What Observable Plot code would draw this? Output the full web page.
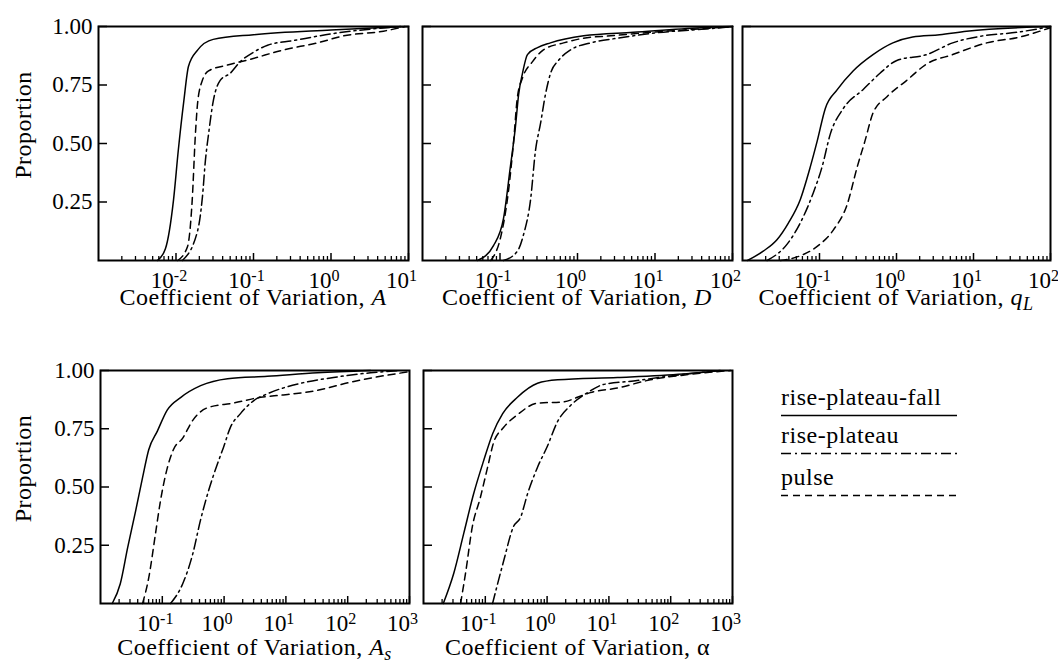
<!DOCTYPE html>
<html><head><meta charset="utf-8">
<script src="https://cdn.jsdelivr.net/npm/d3@7"></script>
<script src="https://cdn.jsdelivr.net/npm/@observablehq/plot@0.6"></script>
<style>
body{margin:0;background:#fff;}
#root{position:relative;width:1058px;height:664px;overflow:hidden;font-family:'Liberation Serif','DejaVu Serif',serif;}
#root svg{position:absolute;overflow:visible;}
#root svg text{font-family:'Liberation Serif','DejaVu Serif',serif;}
</style></head><body><div id="root"></div>
<script>
// ---- Data ----
const seriesNames = ["rise-plateau-fall", "rise-plateau", "pulse"];
const yTicks = [0.25, 0.5, 0.75, 1.0];
const yTickLabels = ["0.25", "0.50", "0.75", "1.00"];

// Panel A
const ticksA = [1e-2, 1e-1, 1, 10];
const cvA_riseFall = [0.00575, 0.0073, 0.0093, 0.0107, 0.0126, 0.0145, 0.0191, 0.0302, 0.1, 1, 4, 10];
const pA_riseFall  = [0, 0.05, 0.26, 0.47, 0.68, 0.83, 0.90, 0.945, 0.965, 0.985, 0.995, 1];
const cvA_risePlateau = [0.0121, 0.0191, 0.0219, 0.024, 0.0263, 0.0302, 0.0372, 0.05, 0.0676, 0.1, 0.152, 0.328, 1.07, 7.9];
const pA_risePlateau  = [0, 0.13, 0.27, 0.43, 0.54, 0.68, 0.77, 0.80, 0.85, 0.89, 0.92, 0.94, 0.97, 1];
const cvA_pulse = [0.0105, 0.0141, 0.0162, 0.0178, 0.0191, 0.0219, 0.0263, 0.0457, 0.091, 0.244, 0.67, 1.45, 4.75, 9];
const pA_pulse  = [0, 0.06, 0.26, 0.54, 0.68, 0.77, 0.81, 0.835, 0.86, 0.90, 0.93, 0.96, 0.98, 1];

// Panel D
const ticksD = [1e-1, 1, 10, 100];
const cvD_riseFall = [0.0513, 0.0824, 0.111, 0.136, 0.158, 0.174, 0.195, 0.226, 0.305, 0.447, 1.2, 5.25, 38.9, 100];
const pD_riseFall  = [0, 0.064, 0.18, 0.40, 0.57, 0.71, 0.80, 0.88, 0.91, 0.93, 0.96, 0.975, 0.995, 1];
const cvD_risePlateau = [0.111, 0.168, 0.201, 0.248, 0.287, 0.333, 0.386, 0.449, 0.569, 0.813, 1.47, 3.28, 8.71, 70.8, 100];
const pD_risePlateau  = [0, 0.04, 0.11, 0.26, 0.47, 0.585, 0.71, 0.80, 0.855, 0.90, 0.93, 0.95, 0.97, 0.995, 1];
const cvD_pulse = [0.0759, 0.102, 0.129, 0.149, 0.168, 0.195, 0.263, 0.363, 0.661, 1.2, 2.69, 8.71, 38.9, 100];
const pD_pulse  = [0, 0.1, 0.3, 0.5, 0.7, 0.78, 0.85, 0.9, 0.93, 0.95, 0.96, 0.975, 0.99, 1];

// Panel qL
const ticksQ = [1e-1, 1, 10, 100];
const cvQ_riseFall = [0.0116, 0.0186, 0.0282, 0.0394, 0.0562, 0.0759, 0.0933, 0.119, 0.17, 0.273, 0.495, 0.897, 1.62, 3.63, 8.13, 100];
const pQ_riseFall  = [0, 0.04, 0.09, 0.16, 0.26, 0.40, 0.51, 0.65, 0.73, 0.81, 0.88, 0.93, 0.955, 0.965, 0.98, 1];
const cvQ_risePlateau = [0.0209, 0.038, 0.0562, 0.0832, 0.108, 0.138, 0.204, 0.367, 0.61, 1.01, 2.47, 5.37, 13.2, 36.3, 100];
const pQ_risePlateau  = [0, 0.07, 0.16, 0.29, 0.40, 0.54, 0.65, 0.73, 0.80, 0.855, 0.88, 0.93, 0.96, 0.975, 1];
const cvQ_pulse = [0.0309, 0.0562, 0.0933, 0.151, 0.229, 0.309, 0.389, 0.495, 0.752, 1.36, 2.47, 5.37, 14.8, 39.8, 100];
const pQ_pulse  = [0, 0.02, 0.06, 0.13, 0.24, 0.40, 0.51, 0.63, 0.70, 0.77, 0.84, 0.88, 0.93, 0.955, 0.995];

// Panel As
const ticksS = [1e-1, 1, 10, 100, 1000];
const cvS_riseFall = [0.0155, 0.0209, 0.0275, 0.0372, 0.0479, 0.0603, 0.0832, 0.12, 0.2, 0.417, 1.14, 5.01, 32.4, 234];
const pS_riseFall  = [0, 0.085, 0.24, 0.40, 0.54, 0.66, 0.74, 0.83, 0.885, 0.935, 0.965, 0.975, 0.99, 1];
const cvS_risePlateau = [0.136, 0.214, 0.309, 0.417, 0.562, 0.782, 0.977, 1.26, 1.84, 2.99, 5.01, 17.4, 58.9, 234, 708];
const pS_risePlateau  = [0, 0.085, 0.21, 0.36, 0.485, 0.60, 0.67, 0.755, 0.815, 0.87, 0.90, 0.945, 0.97, 0.99, 1];
const cvS_pulse = [0.0479, 0.0603, 0.0776, 0.0933, 0.12, 0.151, 0.214, 0.309, 0.537, 1.41, 3.89, 9.12, 32.4, 112, 339, 1000];
const pS_pulse  = [0, 0.11, 0.30, 0.44, 0.58, 0.66, 0.71, 0.785, 0.84, 0.86, 0.885, 0.895, 0.915, 0.95, 0.975, 0.995];

// Panel alpha
const ticksAl = [1e-1, 1, 10, 100, 1000];
const cvAl_riseFall = [0.0209, 0.0309, 0.0447, 0.0646, 0.0933, 0.132, 0.191, 0.331, 0.7, 1.48, 13.8, 158, 631];
const pAl_riseFall  = [0, 0.13, 0.30, 0.47, 0.61, 0.73, 0.815, 0.885, 0.945, 0.96, 0.97, 0.985, 1];
const cvAl_risePlateau = [0.131, 0.197, 0.286, 0.372, 0.482, 0.7, 1.01, 1.47, 2.4, 4.51, 8.18, 25.1, 89.1, 631];
const pAl_risePlateau  = [0, 0.18, 0.33, 0.37, 0.47, 0.585, 0.675, 0.78, 0.85, 0.905, 0.94, 0.955, 0.975, 1];
const cvAl_pulse = [0.0398, 0.0479, 0.0617, 0.0832, 0.109, 0.136, 0.197, 0.331, 0.7, 1.84, 3.09, 5.01, 13.8, 46.8, 158, 933];
const pAl_pulse  = [0, 0.13, 0.33, 0.455, 0.585, 0.69, 0.755, 0.81, 0.86, 0.865, 0.885, 0.905, 0.925, 0.96, 0.98, 1];

// ---- Styles / layout ----
const dashes = {"rise-plateau-fall": null, "rise-plateau": "10,4,2,4", "pulse": "7,5"};
const FONT = "'Liberation Serif', 'DejaVu Serif', serif";
const FS = 23;       // tick labels
const FS_T = 24;     // titles / legend
const LS = "0.5px";  // letter spacing of titles

function curves(xs, ps) {
  return seriesNames.map((name, i) => ({name, x: xs[i], p: ps[i]}));
}

const panels = [
  {left: 0, top: 0, mL: 98, mT: 26, fw: 310, fh: 234, domain: [1e-3, 10], majors: ticksA, yLabels: true, titleDy: 45,
   title: [{t: "Coefficient of Variation, "}, {t: "A", it: true}],
   curves: curves([cvA_riseFall, cvA_risePlateau, cvA_pulse], [pA_riseFall, pA_risePlateau, pA_pulse])},
  {left: 402, top: 0, mL: 20, mT: 26, fw: 310, fh: 234, domain: [1e-2, 100], majors: ticksD, yLabels: false, titleDy: 45,
   title: [{t: "Coefficient of Variation, "}, {t: "D", it: true}],
   curves: curves([cvD_riseFall, cvD_risePlateau, cvD_pulse], [pD_riseFall, pD_risePlateau, pD_pulse])},
  {left: 722, top: 0, mL: 20, mT: 26, fw: 308, fh: 234, domain: [1e-2, 100], majors: ticksQ, yLabels: false, titleDy: 45,
   title: [{t: "Coefficient of Variation, "}, {t: "q", it: true}, {t: "L", it: true, sub: true}],
   curves: curves([cvQ_riseFall, cvQ_risePlateau, cvQ_pulse], [pQ_riseFall, pQ_risePlateau, pQ_pulse])},
  {left: 0, top: 340, mL: 100, mT: 30, fw: 309, fh: 233, domain: [1e-2, 1000], majors: ticksS, yLabels: true, titleDy: 52,
   title: [{t: "Coefficient of Variation, "}, {t: "A", it: true}, {t: "s", it: true, sub: true}],
   curves: curves([cvS_riseFall, cvS_risePlateau, cvS_pulse], [pS_riseFall, pS_risePlateau, pS_pulse])},
  {left: 403, top: 340, mL: 20, mT: 30, fw: 309, fh: 233, domain: [1e-2, 1000], majors: ticksAl, yLabels: false, titleDy: 52,
   title: [{t: "Coefficient of Variation, α"}],
   curves: curves([cvAl_riseFall, cvAl_risePlateau, cvAl_pulse], [pAl_riseFall, pAl_risePlateau, pAl_pulse])}
];

const root = document.getElementById("root");

function minorTicks(domain) {
  const out = [];
  const k0 = Math.floor(Math.log10(domain[0]) + 1e-9), k1 = Math.round(Math.log10(domain[1]));
  for (let k = k0; k < k1; k++) for (let m = 2; m <= 9; m++) {
    const v = m * Math.pow(10, k);
    if (v > domain[0] && v < domain[1]) out.push(v);
  }
  return out;
}

for (const s of panels) {
  const mR = 25, mB = 70;
  const marks = [
    Plot.axisX({ticks: minorTicks(s.domain), tickSize: -4, tickFormat: () => "", strokeWidth: 1.3, label: null}),
    Plot.axisX({ticks: s.majors, tickSize: -7, tickFormat: () => "", strokeWidth: 1.5, label: null}),
    Plot.axisX({ticks: s.majors, tickSize: 0, tickPadding: 11, dx: -7, label: null,
      tickFormat: d => "10^" + Math.round(Math.log10(d))}),
    Plot.axisY({ticks: yTicks, tickSize: -9, tickFormat: () => "", strokeWidth: 1.5, label: null})
  ];
  if (s.yLabels) marks.push(Plot.axisY({ticks: yTicks, tickSize: 0, tickPadding: 6, label: null,
      tickFormat: d => yTickLabels[yTicks.indexOf(d)]}));
  for (const c of s.curves) {
    const rows = c.x.map((x, i) => ({cv: x, p: c.p[i]}));
    marks.push(Plot.line(rows, {x: "cv", y: "p", stroke: "black", strokeWidth: 1.5,
      strokeDasharray: dashes[c.name], curve: "monotone-x"}));
  }
  marks.push(Plot.frame({stroke: "black", strokeWidth: 2}));

  const svg = Plot.plot({
    width: s.mL + s.fw + mR, height: s.mT + s.fh + mB,
    marginLeft: s.mL, marginRight: mR, marginTop: s.mT, marginBottom: mB,
    x: {type: "log", domain: s.domain, label: null},
    y: {domain: [0, 1], label: null},
    style: {fontFamily: FONT, fontSize: FS + "px", background: "transparent", overflow: "visible", color: "black"},
    marks
  });
  svg.style.left = s.left + "px";
  svg.style.top = s.top + "px";

  // drop empty tick texts; superscript exponents on the x tick labels
  d3.select(svg).selectAll("text").each(function() {
    const txt = this.textContent;
    if (txt === "") { this.remove(); return; }
    const m = /^10\^(-?\d+)$/.exec(txt);
    if (m) {
      const t = d3.select(this);
      t.text("10");
      t.append("tspan").attr("dy", "-0.42em").attr("font-size", "0.7em").text(m[1]);
    }
  });

  // x axis title
  const tt = d3.select(svg).append("text")
    .attr("x", s.mL + s.fw / 2).attr("y", s.mT + s.fh + s.titleDy)
    .attr("text-anchor", "middle").style("font-family", FONT).style("letter-spacing", LS)
    .attr("font-size", FS_T).attr("fill", "black");
  for (const part of s.title) {
    const ts = tt.append("tspan").text(part.t);
    if (part.it) ts.attr("font-style", "italic");
    if (part.sub) ts.attr("dy", "0.3em").attr("font-size", "0.75em");
  }

  // y axis title
  if (s.yLabels) {
    d3.select(svg).append("text")
      .attr("transform", `translate(${31}, ${s.mT + s.fh / 2 - 18}) rotate(-90)`)
      .attr("text-anchor", "middle").style("font-family", FONT).style("letter-spacing", LS)
      .attr("font-size", FS_T).attr("fill", "black")
      .text("Proportion");
  }
  root.appendChild(svg);
}

// ---- Legend ----
const legend = d3.create("svg").attr("width", 260).attr("height", 140)
  .style("left", "770px").style("top", "380px");
seriesNames.forEach((name, i) => {
  const base = [25, 63, 105][i];
  legend.append("text").attr("x", 11).attr("y", base).style("font-family", FONT).style("letter-spacing", LS)
    .attr("font-size", FS_T).attr("fill", "black").text(name);
  legend.append("line").attr("x1", 11).attr("x2", 187).attr("y1", base + 10.5).attr("y2", base + 10.5)
    .attr("stroke", "black").attr("stroke-width", 1.5).attr("stroke-dasharray", dashes[name]);
});
root.appendChild(legend.node());
</script>
</body></html>
